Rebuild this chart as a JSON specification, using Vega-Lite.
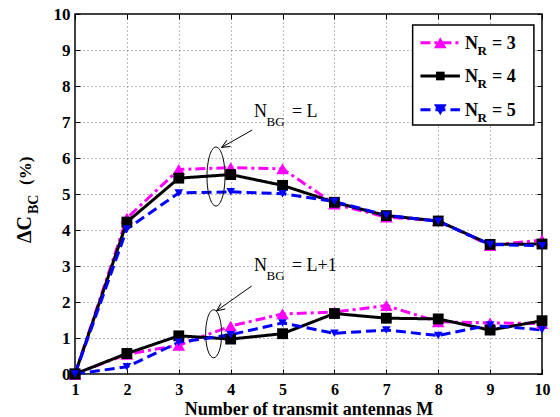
{
  "$schema": "https://vega.github.io/schema/vega-lite/v6.json",
  "width": 467,
  "height": 360,
  "autosize": {"type": "none"},
  "padding": {"left": 75, "top": 14, "right": 18, "bottom": 43},
  "background": "white",
  "config": {
    "view": {"stroke": "black", "strokeWidth": 1.5},
    "font": "Liberation Serif"
  },
  "datasets": {
    "main": [
      {"M": 1, "NR": "3", "NBG": "L", "dC": 0},
      {"M": 2, "NR": "3", "NBG": "L", "dC": 4.33},
      {"M": 3, "NR": "3", "NBG": "L", "dC": 5.68},
      {"M": 4, "NR": "3", "NBG": "L", "dC": 5.73},
      {"M": 5, "NR": "3", "NBG": "L", "dC": 5.7},
      {"M": 6, "NR": "3", "NBG": "L", "dC": 4.72},
      {"M": 7, "NR": "3", "NBG": "L", "dC": 4.36},
      {"M": 8, "NR": "3", "NBG": "L", "dC": 4.26},
      {"M": 9, "NR": "3", "NBG": "L", "dC": 3.57},
      {"M": 10, "NR": "3", "NBG": "L", "dC": 3.72},
      {"M": 1, "NR": "4", "NBG": "L", "dC": 0},
      {"M": 2, "NR": "4", "NBG": "L", "dC": 4.22},
      {"M": 3, "NR": "4", "NBG": "L", "dC": 5.44},
      {"M": 4, "NR": "4", "NBG": "L", "dC": 5.54},
      {"M": 5, "NR": "4", "NBG": "L", "dC": 5.24},
      {"M": 6, "NR": "4", "NBG": "L", "dC": 4.77},
      {"M": 7, "NR": "4", "NBG": "L", "dC": 4.4},
      {"M": 8, "NR": "4", "NBG": "L", "dC": 4.25},
      {"M": 9, "NR": "4", "NBG": "L", "dC": 3.6},
      {"M": 10, "NR": "4", "NBG": "L", "dC": 3.61},
      {"M": 1, "NR": "5", "NBG": "L", "dC": 0},
      {"M": 2, "NR": "5", "NBG": "L", "dC": 4.03},
      {"M": 3, "NR": "5", "NBG": "L", "dC": 5.03},
      {"M": 4, "NR": "5", "NBG": "L", "dC": 5.06},
      {"M": 5, "NR": "5", "NBG": "L", "dC": 5.01},
      {"M": 6, "NR": "5", "NBG": "L", "dC": 4.79},
      {"M": 7, "NR": "5", "NBG": "L", "dC": 4.41},
      {"M": 8, "NR": "5", "NBG": "L", "dC": 4.24},
      {"M": 9, "NR": "5", "NBG": "L", "dC": 3.6},
      {"M": 10, "NR": "5", "NBG": "L", "dC": 3.56},
      {"M": 1, "NR": "3", "NBG": "L+1", "dC": 0},
      {"M": 2, "NR": "3", "NBG": "L+1", "dC": 0.55},
      {"M": 3, "NR": "3", "NBG": "L+1", "dC": 0.8},
      {"M": 4, "NR": "3", "NBG": "L+1", "dC": 1.33},
      {"M": 5, "NR": "3", "NBG": "L+1", "dC": 1.67},
      {"M": 6, "NR": "3", "NBG": "L+1", "dC": 1.72},
      {"M": 7, "NR": "3", "NBG": "L+1", "dC": 1.9},
      {"M": 8, "NR": "3", "NBG": "L+1", "dC": 1.45},
      {"M": 9, "NR": "3", "NBG": "L+1", "dC": 1.42},
      {"M": 10, "NR": "3", "NBG": "L+1", "dC": 1.4},
      {"M": 1, "NR": "4", "NBG": "L+1", "dC": 0},
      {"M": 2, "NR": "4", "NBG": "L+1", "dC": 0.57},
      {"M": 3, "NR": "4", "NBG": "L+1", "dC": 1.06},
      {"M": 4, "NR": "4", "NBG": "L+1", "dC": 0.97},
      {"M": 5, "NR": "4", "NBG": "L+1", "dC": 1.12},
      {"M": 6, "NR": "4", "NBG": "L+1", "dC": 1.68},
      {"M": 7, "NR": "4", "NBG": "L+1", "dC": 1.55},
      {"M": 8, "NR": "4", "NBG": "L+1", "dC": 1.53},
      {"M": 9, "NR": "4", "NBG": "L+1", "dC": 1.22},
      {"M": 10, "NR": "4", "NBG": "L+1", "dC": 1.48},
      {"M": 1, "NR": "5", "NBG": "L+1", "dC": 0},
      {"M": 2, "NR": "5", "NBG": "L+1", "dC": 0.2},
      {"M": 3, "NR": "5", "NBG": "L+1", "dC": 0.88},
      {"M": 4, "NR": "5", "NBG": "L+1", "dC": 1.09},
      {"M": 5, "NR": "5", "NBG": "L+1", "dC": 1.42},
      {"M": 6, "NR": "5", "NBG": "L+1", "dC": 1.13},
      {"M": 7, "NR": "5", "NBG": "L+1", "dC": 1.22},
      {"M": 8, "NR": "5", "NBG": "L+1", "dC": 1.07},
      {"M": 9, "NR": "5", "NBG": "L+1", "dC": 1.36},
      {"M": 10, "NR": "5", "NBG": "L+1", "dC": 1.22}
    ]
  },
  "layer": [
    {
      "layer": [
        {
          "data": {"name": "main"},
          "mark": {"type": "line", "strokeWidth": 3, "clip": false},
          "encoding": {
            "x": {
              "field": "M", "type": "quantitative",
              "scale": {"domain": [1, 10], "nice": false, "zero": false},
              "title": "Number of transmit antennas M",
              "axis": {
                "values": [1, 2, 3, 4, 5, 6, 7, 8, 9, 10], "format": "d", "tickCount": 10,
                "grid": true, "gridColor": "#555555", "gridDash": [1, 3], "gridWidth": 0.8,
                "domain": false, "tickColor": "black", "tickSize": -5, "tickWidth": 1,
                "labelPadding": 12, "labelFont": "Liberation Serif", "labelFontSize": 16,
                "labelFontWeight": "bold", "labelColor": "black", "labelFlush": false,
                "labelBaseline": "top", "labelOverlap": false,
                "titleFont": "Liberation Serif", "titleFontSize": 18, "titleFontWeight": "bold",
                "titleColor": "black", "titleBaseline": "alphabetic", "titleY": 40
              }
            },
            "y": {
              "field": "dC", "type": "quantitative",
              "scale": {"domain": [0, 10], "nice": false},
              "title": null,
              "axis": {
                "values": [0, 1, 2, 3, 4, 5, 6, 7, 8, 9, 10], "format": "d", "tickCount": 11,
                "grid": true, "gridColor": "#555555", "gridDash": [1, 3], "gridWidth": 0.8,
                "domain": false, "tickColor": "black", "tickSize": -5, "tickWidth": 1,
                "labelPadding": 10, "labelFont": "Liberation Serif", "labelFontSize": 17,
                "labelFontWeight": "bold", "labelColor": "black", "labelFlush": false,
                "labelOverlap": false
              }
            },
            "color": {"field": "NR", "type": "nominal", "scale": {"domain": ["3", "4", "5"], "range": ["#ff00ff", "#000000", "#0000ff"]}, "legend": null},
            "strokeDash": {"field": "NR", "type": "nominal", "scale": {"domain": ["3", "4", "5"], "range": [[10, 4, 3, 4], [1, 0], [10, 5]]}, "legend": null},
            "detail": {"field": "NBG"},
            "order": {"field": "M"}
          }
        },
        {
          "data": {"name": "main"},
          "mark": {"type": "point", "filled": true, "opacity": 1, "clip": false},
          "encoding": {
            "x": {"field": "M", "type": "quantitative"},
            "y": {"field": "dC", "type": "quantitative"},
            "color": {"field": "NR", "type": "nominal", "legend": null},
            "shape": {"field": "NR", "type": "nominal", "scale": {"domain": ["3", "4", "5"], "range": ["triangle-up", "square", "triangle-down"]}, "legend": null},
            "size": {"field": "NR", "type": "ordinal", "scale": {"domain": ["3", "4", "5"], "range": [160, 75, 160]}, "legend": null}
          }
        },
        {
          "data": {"values": [{}]},
          "mark": {"type": "rect", "fill": "white", "stroke": "black", "strokeWidth": 1.5},
          "encoding": {"x": {"datum": 7.507}, "x2": {"datum": 9.844}, "y": {"datum": 9.694}, "y2": {"datum": 6.917}}
        },
        {
          "data": {"values": [{}]},
          "mark": {"type": "rule", "color": "#ff00ff", "strokeWidth": 3, "strokeDash": [10, 4, 3, 4]},
          "encoding": {"x": {"datum": 7.657}, "x2": {"datum": 8.418}, "y": {"datum": 9.203}}
        },
        {
          "data": {"values": [{}]},
          "mark": {"type": "rule", "color": "#000000", "strokeWidth": 3},
          "encoding": {"x": {"datum": 7.657}, "x2": {"datum": 8.418}, "y": {"datum": 8.278}}
        },
        {
          "data": {"values": [{}]},
          "mark": {"type": "rule", "color": "#0000ff", "strokeWidth": 3, "strokeDash": [10, 5]},
          "encoding": {"x": {"datum": 7.657}, "x2": {"datum": 8.418}, "y": {"datum": 7.342}}
        },
        {
          "data": {"values": [{}]},
          "mark": {"type": "point", "filled": true, "opacity": 1, "color": "#ff00ff", "shape": "triangle-up", "size": 160},
          "encoding": {"x": {"datum": 8.04}, "y": {"datum": 9.203}}
        },
        {
          "data": {"values": [{}]},
          "mark": {"type": "point", "filled": true, "opacity": 1, "color": "#000000", "shape": "square", "size": 75},
          "encoding": {"x": {"datum": 8.04}, "y": {"datum": 8.278}}
        },
        {
          "data": {"values": [{}]},
          "mark": {"type": "point", "filled": true, "opacity": 1, "color": "#0000ff", "shape": "triangle-down", "size": 160},
          "encoding": {"x": {"datum": 8.04}, "y": {"datum": 7.342}}
        },
        {"data": {"values": [{}]}, "mark": {"type": "text", "text": "N", "font": "Liberation Serif", "fontSize": 18, "fontWeight": "bold", "align": "left", "baseline": "alphabetic", "dy": 6, "color": "black"},
         "encoding": {"x": {"datum": 8.514}, "y": {"datum": 9.203}}},
        {"data": {"values": [{}]}, "mark": {"type": "text", "text": "R", "font": "Liberation Serif", "fontSize": 13, "fontWeight": "bold", "align": "left", "baseline": "alphabetic", "dx": 12.5, "dy": 12.5, "color": "black"},
         "encoding": {"x": {"datum": 8.514}, "y": {"datum": 9.203}}},
        {"data": {"values": [{}]}, "mark": {"type": "text", "text": "= 3", "font": "Liberation Serif", "fontSize": 18, "fontWeight": "bold", "align": "left", "baseline": "alphabetic", "dx": 27, "dy": 6, "color": "black"},
         "encoding": {"x": {"datum": 8.514}, "y": {"datum": 9.203}}},
        {"data": {"values": [{}]}, "mark": {"type": "text", "text": "N", "font": "Liberation Serif", "fontSize": 18, "fontWeight": "bold", "align": "left", "baseline": "alphabetic", "dy": 6, "color": "black"},
         "encoding": {"x": {"datum": 8.514}, "y": {"datum": 8.278}}},
        {"data": {"values": [{}]}, "mark": {"type": "text", "text": "R", "font": "Liberation Serif", "fontSize": 13, "fontWeight": "bold", "align": "left", "baseline": "alphabetic", "dx": 12.5, "dy": 12.5, "color": "black"},
         "encoding": {"x": {"datum": 8.514}, "y": {"datum": 8.278}}},
        {"data": {"values": [{}]}, "mark": {"type": "text", "text": "= 4", "font": "Liberation Serif", "fontSize": 18, "fontWeight": "bold", "align": "left", "baseline": "alphabetic", "dx": 27, "dy": 6, "color": "black"},
         "encoding": {"x": {"datum": 8.514}, "y": {"datum": 8.278}}},
        {"data": {"values": [{}]}, "mark": {"type": "text", "text": "N", "font": "Liberation Serif", "fontSize": 18, "fontWeight": "bold", "align": "left", "baseline": "alphabetic", "dy": 6, "color": "black"},
         "encoding": {"x": {"datum": 8.514}, "y": {"datum": 7.342}}},
        {"data": {"values": [{}]}, "mark": {"type": "text", "text": "R", "font": "Liberation Serif", "fontSize": 13, "fontWeight": "bold", "align": "left", "baseline": "alphabetic", "dx": 12.5, "dy": 12.5, "color": "black"},
         "encoding": {"x": {"datum": 8.514}, "y": {"datum": 7.342}}},
        {"data": {"values": [{}]}, "mark": {"type": "text", "text": "= 5", "font": "Liberation Serif", "fontSize": 18, "fontWeight": "bold", "align": "left", "baseline": "alphabetic", "dx": 27, "dy": 6, "color": "black"},
         "encoding": {"x": {"datum": 8.514}, "y": {"datum": 7.342}}},
        {"data": {"values": [{}]}, "mark": {"type": "text", "text": "N", "font": "Liberation Serif", "fontSize": 18, "align": "left", "baseline": "alphabetic", "color": "black"},
         "encoding": {"x": {"datum": 4.449}, "y": {"datum": 7.139}}},
        {"data": {"values": [{}]}, "mark": {"type": "text", "text": "BG", "font": "Liberation Serif", "fontSize": 13, "align": "left", "baseline": "alphabetic", "dx": 12.5, "dy": 9, "color": "black"},
         "encoding": {"x": {"datum": 4.449}, "y": {"datum": 7.139}}},
        {"data": {"values": [{}]}, "mark": {"type": "text", "text": "= L", "font": "Liberation Serif", "fontSize": 18, "align": "left", "baseline": "alphabetic", "dx": 38, "color": "black"},
         "encoding": {"x": {"datum": 4.449}, "y": {"datum": 7.139}}},
        {"data": {"values": [{}]}, "mark": {"type": "text", "text": "N", "font": "Liberation Serif", "fontSize": 18, "align": "left", "baseline": "alphabetic", "color": "black"},
         "encoding": {"x": {"datum": 4.449}, "y": {"datum": 2.861}}},
        {"data": {"values": [{}]}, "mark": {"type": "text", "text": "BG", "font": "Liberation Serif", "fontSize": 13, "align": "left", "baseline": "alphabetic", "dx": 12.5, "dy": 9, "color": "black"},
         "encoding": {"x": {"datum": 4.449}, "y": {"datum": 2.861}}},
        {"data": {"values": [{}]}, "mark": {"type": "text", "text": "= L+1", "font": "Liberation Serif", "fontSize": 18, "align": "left", "baseline": "alphabetic", "dx": 38, "color": "black"},
         "encoding": {"x": {"datum": 4.449}, "y": {"datum": 2.861}}},
        {
          "data": {"values": [{}]},
          "mark": {"type": "rule", "color": "black", "strokeWidth": 1},
          "encoding": {"x": {"datum": 4.416}, "y": {"datum": 6.778}, "x2": {"datum": 3.827}, "y2": {"datum": 6.297}}
        },
        {
          "data": {"values": [{}]},
          "mark": {"type": "rule", "color": "black", "strokeWidth": 1},
          "encoding": {"x": {"datum": 4.405}, "y": {"datum": 2.444}, "x2": {"datum": 3.73}, "y2": {"datum": 1.758}}
        },
        {
          "data": {"values": [{}]},
          "mark": {"type": "point", "shape": "M-1,-0.45L0,0L-1,0.45", "size": 256, "filled": false, "stroke": "black", "strokeWidth": 1, "opacity": 1, "angle": 150.5},
          "encoding": {"x": {"datum": 3.827}, "y": {"datum": 6.297}}
        },
        {
          "data": {"values": [{}]},
          "mark": {"type": "point", "shape": "M-1,-0.45L0,0L-1,0.45", "size": 256, "filled": false, "stroke": "black", "strokeWidth": 1, "opacity": 1, "angle": 144.8},
          "encoding": {"x": {"datum": 3.73}, "y": {"datum": 1.758}}
        },
        {
          "data": {"values": [{}]},
          "mark": {"type": "point", "shape": "M0,-1A0.305,1 0 1,1 0,1A0.305,1 0 1,1 0,-1Z", "size": 3481, "filled": false, "stroke": "black", "strokeWidth": 1, "opacity": 1},
          "encoding": {"x": {"datum": 3.717}, "y": {"datum": 5.486}}
        },
        {
          "data": {"values": [{}]},
          "mark": {"type": "point", "shape": "M0,-1A0.333,1 0 1,1 0,1A0.333,1 0 1,1 0,-1Z", "size": 2304, "filled": false, "stroke": "black", "strokeWidth": 1, "opacity": 1},
          "encoding": {"x": {"datum": 3.672}, "y": {"datum": 1.117}}
        },
        {"data": {"values": [{}]}, "mark": {"type": "text", "text": "ΔC", "font": "Liberation Serif", "fontSize": 20, "fontWeight": "bold", "angle": 270, "align": "left", "baseline": "alphabetic", "dx": 0, "dy": -44, "color": "black"},
         "encoding": {"x": {"datum": 1}, "y": {"datum": 3.639}}},
        {"data": {"values": [{}]}, "mark": {"type": "text", "text": "BC", "font": "Liberation Serif", "fontSize": 14, "fontWeight": "bold", "angle": 270, "align": "left", "baseline": "alphabetic", "dx": 29, "dy": -37, "color": "black"},
         "encoding": {"x": {"datum": 1}, "y": {"datum": 3.639}}},
        {"data": {"values": [{}]}, "mark": {"type": "text", "text": "(%)", "font": "Liberation Serif", "fontSize": 17, "fontWeight": "bold", "angle": 270, "align": "left", "baseline": "alphabetic", "dx": 58, "dy": -44, "color": "black"},
         "encoding": {"x": {"datum": 1}, "y": {"datum": 3.639}}}
      ]
    },
    {
      "data": {"values": [{}]},
      "mark": {"type": "point", "opacity": 0},
      "encoding": {
        "x": {"datum": 1, "type": "quantitative", "scale": {"domain": [1, 10], "nice": false, "zero": false},
              "axis": {"orient": "top", "values": [1, 2, 3, 4, 5, 6, 7, 8, 9, 10], "labels": false, "domain": false, "grid": false, "tickSize": -5, "tickColor": "black", "tickWidth": 1, "title": null}},
        "y": {"datum": 0, "type": "quantitative", "scale": {"domain": [0, 10], "nice": false},
              "axis": {"orient": "right", "values": [0, 1, 2, 3, 4, 5, 6, 7, 8, 9, 10], "labels": false, "domain": false, "grid": false, "tickSize": -5, "tickColor": "black", "tickWidth": 1, "title": null}}
      }
    }
  ],
  "resolve": {"axis": {"x": "independent", "y": "independent"}}
}
